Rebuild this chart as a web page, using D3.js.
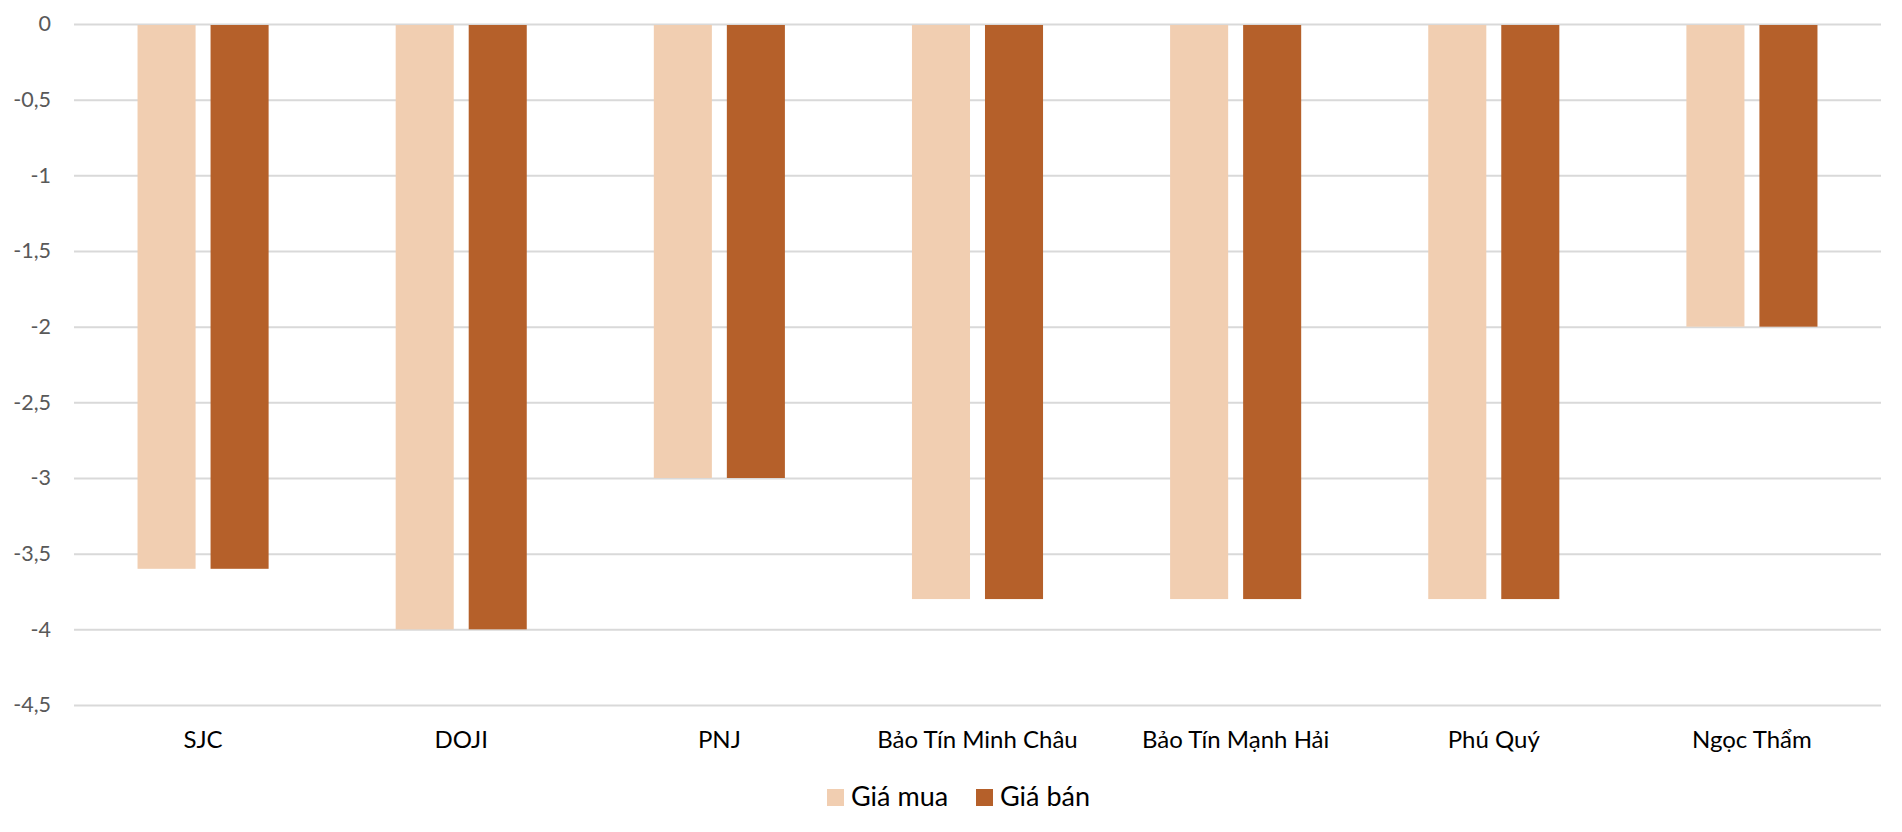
<!DOCTYPE html>
<html>
<head>
<meta charset="utf-8">
<script src="https://d3js.org/d3.v7.min.js"></script>
<style>
  body { margin: 0; background: #fff; }
  text { font-family: Lato, "Open Sans", sans-serif; }
</style>
</head>
<body>
<svg width="1902" height="832"></svg>
<script>
// data
const brands = ["SJC", "DOJI", "PNJ", "Bảo Tín Minh Châu", "Bảo Tín Mạnh Hải", "Phú Quý", "Ngọc Thẩm"];
const seriesNames = ["Giá mua", "Giá bán"];
const buyValues = [-3.6, -4, -3, -3.8, -3.8, -3.8, -2];
const sellValues = [-3.6, -4, -3, -3.8, -3.8, -3.8, -2];
const yTicks = [0, -0.5, -1, -1.5, -2, -2.5, -3, -3.5, -4, -4.5];
const colors = ["#F1CEB1", "#B5602A"];

const rows = brands.map((b, i) => ({ brand: b, values: [buyValues[i], sellValues[i]] }));

const plotL = 74, plotR = 1881, plotT = 24, plotB = 705;
const svg = d3.select("svg");

const x0 = d3.scaleBand().domain(brands).range([plotL, plotR]);
const x1 = d3.scaleBand().domain(seriesNames).range([0, x0.bandwidth()])
  .paddingInner(0.205).paddingOuter(0.87);
const y = d3.scaleLinear().domain([0, -4.5]).range([plotT, plotB]);
const color = d3.scaleOrdinal().domain(seriesNames).range(colors);

const fmt = d => d3.format("")(d).replace(".", ",").replace("−", "-");

// gridlines + tick labels
const yAx = d3.axisLeft(y).tickValues(yTicks).tickSize(-(plotR - plotL)).tickPadding(23).tickFormat(fmt);
const gy = svg.append("g").attr("transform", "translate(" + plotL + ",0)").call(yAx);
gy.select(".domain").remove();
gy.selectAll(".tick line").attr("stroke", "#D9D9D9").attr("stroke-width", 2);
gy.selectAll(".tick text").attr("fill", "#595959").style("font-size", "21.5px");

// bars
const groups = svg.append("g").selectAll("g")
  .data(rows)
  .enter()
  .append("g")
  .attr("transform", d => "translate(" + x0(d.brand) + ",0)");

groups.selectAll("rect")
  .data(d => d.values.map((v, i) => ({ key: seriesNames[i], value: v })))
  .enter()
  .append("rect")
  .attr("x", d => x1(d.key))
  .attr("width", x1.bandwidth())
  .attr("y", y(0) + 1)
  .attr("height", d => y(d.value) - y(0) - 1)
  .attr("fill", d => color(d.key));

// category labels
svg.append("g").selectAll("text")
  .data(brands)
  .enter()
  .append("text")
  .attr("x", d => x0(d) + x0.bandwidth() / 2)
  .attr("y", 748)
  .attr("text-anchor", "middle")
  .style("font-size", "24px")
  .attr("fill", "#000")
  .text(d => d);

// legend
const legX = [827, 976];
const leg = svg.append("g").selectAll("g")
  .data(seriesNames)
  .enter()
  .append("g")
  .attr("transform", (d, i) => "translate(" + legX[i] + ",789)");
leg.append("rect").attr("width", 17).attr("height", 17).attr("fill", d => color(d));
leg.append("text")
  .attr("x", 24)
  .attr("y", 17)
  .style("font-size", "27px")
  .attr("fill", "#000")
  .text(d => d);
</script>
</body>
</html>
